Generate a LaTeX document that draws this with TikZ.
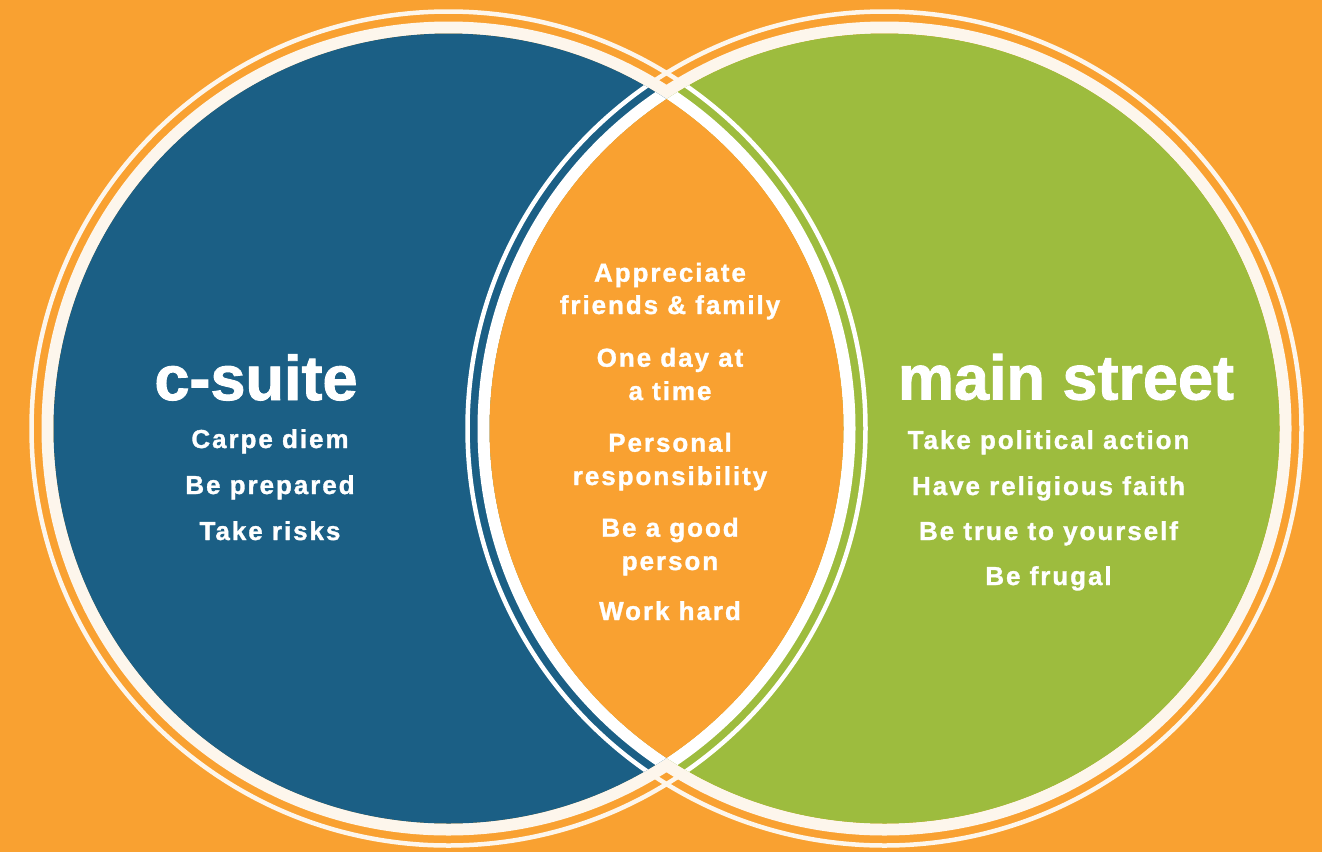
\documentclass[tikz,border=0pt]{standalone}
\usepackage{fontspec}
\setmainfont{Liberation Sans}
\newfontfamily\itemfont{Liberation Sans}[LetterSpace=7.5, BoldFeatures={FakeBold=1.2}]
\newfontfamily\titlefont{Liberation Sans}[BoldFeatures={FakeBold=1.5}]
\definecolor{bgorange}{HTML}{F9A131}
\definecolor{csblue}{HTML}{1B5F85}
\definecolor{msgreen}{HTML}{9DBC3E}
\definecolor{cream}{HTML}{FDF6EC}
\tikzset{
  title/.style={anchor=base, inner sep=0pt, text=white,
    font=\titlefont\bfseries\fontsize{63}{63}\selectfont},
  item/.style={anchor=base, inner sep=0pt, text=white,
    font=\itemfont\bfseries\fontsize{26}{33}\selectfont},
  thickring/.style={line width=12pt},
  thinring/.style={line width=4.5pt}
}
\begin{document}
\begin{tikzpicture}[x=1pt,y=-1pt]
\def\R{395}
\fill[bgorange] (0,0) rectangle (1322,852);
\useasboundingbox (0,0) rectangle (1322,852);
\coordinate (cl) at (448.5,428.5);
\coordinate (cr) at (884.5,428.5);

% outer rings of both circles
\foreach \cc in {cl,cr}{
  \draw[cream, thickring] (\cc) circle[radius=\R+6];
  \draw[cream, thinring] (\cc) circle[radius=\R+22];
}

% the two discs
\fill[csblue] (cl) circle[radius=\R];
\fill[msgreen] (cr) circle[radius=\R];

% rings crossing the other disc are pure white
\begin{scope}
  \clip (cr) circle[radius=\R];
  \draw[white, thickring] (cl) circle[radius=\R+6];
  \draw[white, thinring] (cl) circle[radius=\R+22];
\end{scope}
\begin{scope}
  \clip (cl) circle[radius=\R];
  \draw[white, thickring] (cr) circle[radius=\R+6];
  \draw[white, thinring] (cr) circle[radius=\R+22];
\end{scope}

% the shared lens
\begin{scope}
  \clip (cl) circle[radius=\R];
  \fill[bgorange] (cr) circle[radius=\R];
\end{scope}

% left set
\node[title] (cstitle) at (256,400) {c-suite};
\node[item] (cs1) at (270,448) {Carpe diem};
\node[item] (cs2) at (270,494) {Be prepared};
\node[item] (cs3) at (270,540) {Take risks};

% right set
\node[title] (mstitle) at (1066,399.5) {main street};
\node[item] (ms1) at (1048.5,449) {Take political action};
\node[item] (ms2) at (1048.5,495) {Have religious faith};
\node[item] (ms3) at (1048.5,540) {Be true to yourself};
\node[item] (ms4) at (1048.5,585) {Be frugal};

% shared values
\node[item] (sh1a) at (670,281.7) {Appreciate};
\node[item] (sh1b) at (670,314) {friends \& family};
\node[item] (sh2a) at (670,366.7) {One day at};
\node[item] (sh2b) at (670,400) {a time};
\node[item] (sh3a) at (670,451.7) {Personal};
\node[item] (sh3b) at (670,485) {responsibility};
\node[item] (sh4a) at (670,536.7) {Be a good};
\node[item] (sh4b) at (670,570) {person};
\node[item] (sh5) at (670,620) {Work hard};
\end{tikzpicture}
\end{document}
